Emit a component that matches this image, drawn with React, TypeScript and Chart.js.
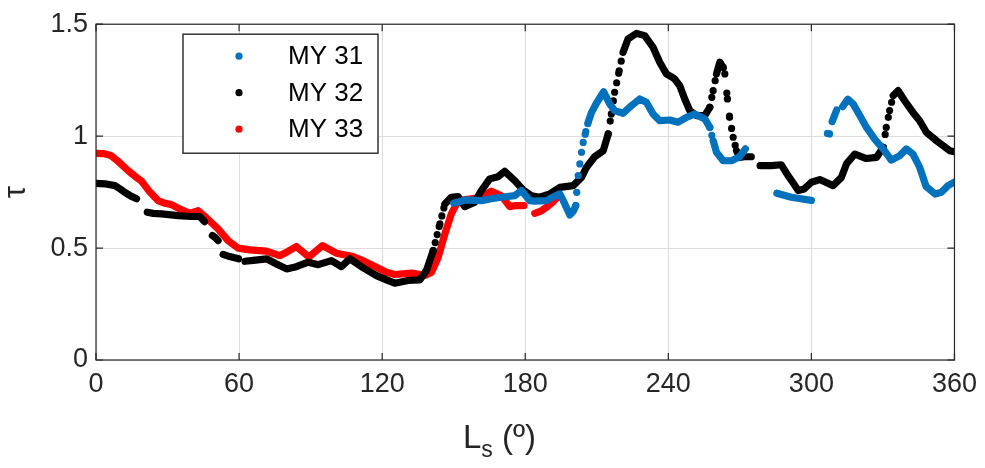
import React, { useEffect, useRef } from 'react';
import { Chart, registerables } from 'chart.js';

Chart.register(...registerables);

// ---- axis ticks ----
const xTicks = [0, 60, 120, 180, 240, 300, 360];
const yTicks = [0, 0.5, 1, 1.5];

// ---- series meta ----
const seriesLabels = ['MY 31', 'MY 32', 'MY 33'];
const seriesColors = ['#0072BD', '#000000', '#FF0000'];

// ---- MY 31 (null tau = gap) ----
const my31Ls = [150, 155, 161.6, 165.8, 170, 175.6, 178.4, 181.9, 184, 188.9, 192, 194.5, 196.6, 198.7, 200.2, 201.2, 201.6, 202.2, 202.9, 203.6, 204.3, 205.4, 206.4, 207.8, 209.9, 212.9, 215.4, 217.5, 221, 224.5, 228, 230.8, 233.6, 236.4, 240.6, 244.1, 247.6, 251.1, 255.3, 257.4, 258.8, 260.2, 263, 266.5, 269.9, 272.3,
  279,
  285.5, 291.6, 300,
  303,
  306.7, 307.6,
  308.2,
  308.7, 310.6,
  311.8,
  313.1, 315.3, 317.5, 320.3, 323.1, 326.5, 330.1, 333.5, 337.1, 339.8, 342.6, 345.4, 348.1, 351.9, 354.5, 357.3, 360];
const my31Tau = [0.70, 0.715, 0.712, 0.72, 0.727, 0.734, 0.757, 0.712, 0.71, 0.712, 0.73, 0.742, 0.697, 0.648, 0.665, 0.69, 0.749, 0.824, 0.876, 0.928, 0.972, 1.02, 1.062, 1.106, 1.148, 1.198, 1.144, 1.114, 1.102, 1.136, 1.166, 1.151, 1.099, 1.069, 1.072, 1.062, 1.084, 1.099, 1.077, 1.039, 0.98, 0.928, 0.89, 0.89, 0.908, 0.943,
  null,
  0.745, 0.727, 0.713,
  null,
  1.012, 1.01,
  null,
  1.065, 1.117,
  null,
  1.132, 1.165, 1.144, 1.092, 1.039, 0.987, 0.943, 0.893, 0.913, 0.943, 0.92, 0.861, 0.775, 0.741, 0.749, 0.779, 0.795];

// ---- MY 32 ----
const my32Ls = [0, 3.7, 7.9, 10, 12.1, 15, 17,
  19,
  21.5, 24, 27.5, 34.5, 40, 43.5, 45.5,
  47,
  48.8, 50, 51.2,
  52.3,
  53.3, 56, 59.8,
  61.3,
  62.5, 66, 71.5, 75.7, 79.9, 84, 89, 93.2, 98.7, 102.9, 106.4, 112, 117.6, 121.8, 125.3, 130.9, 135.8, 138.6, 141.4, 144.2, 146.3, 149, 151.9, 154.6, 158.8, 161.6, 165.1, 168.6, 171.4, 175.6, 179.1, 182.6, 186.1, 190.3, 194.5, 200.1, 203.6, 205.7, 209.1, 212.7, 214.8, 216.1, 217.5, 219.4, 221, 223.1, 226.6, 230.1, 233.6, 236.4, 239.2, 241.3, 242.7, 244.8, 246.9, 249, 251.8, 255.3, 257.4, 258.8, 260.2, 261.6, 263, 263.7, 264.8, 265.7, 267.2, 268.6, 269.9, 272, 274.8,
  276.5,
  278.5, 283.2, 287.4, 290.2, 294.5, 297, 300, 303.5, 309.1, 312.6, 314.7, 318.2, 323.1, 327.3, 330.1, 331.4, 332.8, 334.3, 336.4, 339.1, 342.6, 345.4, 348.2, 352.4, 355.2, 358, 360];
const my32Tau = [0.789, 0.787, 0.779, 0.765, 0.749, 0.73, 0.72,
  null,
  0.66, 0.655, 0.653, 0.645, 0.641, 0.641, 0.618,
  null,
  0.556, 0.547, 0.533,
  null,
  0.472, 0.462, 0.452,
  null,
  0.441, 0.445, 0.452, 0.429, 0.407, 0.417, 0.437, 0.426, 0.444, 0.417, 0.452, 0.412, 0.377, 0.358, 0.343, 0.355, 0.358, 0.40, 0.489, 0.608, 0.697, 0.727, 0.73, 0.685, 0.705, 0.757, 0.809, 0.819, 0.843, 0.801, 0.76, 0.734, 0.727, 0.742, 0.771, 0.779, 0.816, 0.861, 0.908, 0.935, 1.01, 1.099, 1.196, 1.292, 1.374, 1.434, 1.459, 1.449, 1.397, 1.33, 1.278, 1.265, 1.255, 1.225, 1.166, 1.114, 1.092, 1.092, 1.129, 1.203, 1.278, 1.33, 1.307, 1.278, 1.166, 1.084, 0.995, 0.935, 0.905, 0.908, 0.908,
  null,
  0.868, 0.868, 0.872, 0.824, 0.757, 0.764, 0.794, 0.806, 0.779, 0.816, 0.876, 0.92, 0.9, 0.905, 0.95, 1.039, 1.114, 1.181, 1.203, 1.158, 1.106, 1.069, 1.017, 0.98, 0.958, 0.935, 0.93];

// ---- MY 33 ----
const my33Ls = [0, 3, 6, 9, 13.5, 17, 19, 22.6, 26, 29, 31.7, 35, 39.3, 42.8, 46.3, 51.2, 55.4, 59.6, 64.5, 71.5, 77, 80.5, 84, 89.3, 95, 100.8, 107.8, 112, 117.6, 121.8, 125.3, 132.3, 137.9, 140.7, 143.5, 146.3, 149, 151.9, 157.4, 161.6, 165.8, 170, 173.5, 176, 179.5,
  182,
  184, 186.5, 188.9, 191.5, 193.8];
const my33Tau = [0.923, 0.922, 0.915, 0.89, 0.846, 0.815, 0.80, 0.75, 0.712, 0.70, 0.694, 0.675, 0.655, 0.667, 0.635, 0.586, 0.533, 0.50, 0.492, 0.486, 0.466, 0.485, 0.507, 0.46, 0.511, 0.477, 0.462, 0.444, 0.414, 0.392, 0.382, 0.388, 0.378, 0.392, 0.459, 0.563, 0.653, 0.712, 0.72, 0.727, 0.754, 0.734, 0.685, 0.69, 0.69,
  null,
  0.655, 0.665, 0.682, 0.705, 0.73];

const FONT = "'Liberation Sans', Arial, Helvetica, sans-serif";
const AXIS_COLOR = '#262626';

function toPoints(ls: number[], tau: (number | null)[]) {
  return ls.map((x, i) => ({ x, y: tau[i] }));
}

const framePlugin = {
  id: 'matlabFrame',
  afterDraw(chart: any) {
    const { ctx, chartArea: a, scales } = chart;
    const xs = scales.x;
    const ys = scales.y;
    ctx.save();
    ctx.strokeStyle = AXIS_COLOR;
    ctx.lineWidth = 1.2;
    ctx.strokeRect(a.left, a.top, a.right - a.left, a.bottom - a.top);
    const tl = 7;
    ctx.beginPath();
    xTicks.forEach((v) => {
      const px = xs.getPixelForValue(v);
      ctx.moveTo(px, a.bottom);
      ctx.lineTo(px, a.bottom - tl);
      ctx.moveTo(px, a.top);
      ctx.lineTo(px, a.top + tl);
    });
    yTicks.forEach((v) => {
      const py = ys.getPixelForValue(v);
      ctx.moveTo(a.left, py);
      ctx.lineTo(a.left + tl, py);
      ctx.moveTo(a.right, py);
      ctx.lineTo(a.right - tl, py);
    });
    ctx.stroke();

    // x title: L_s (º)
    ctx.fillStyle = AXIS_COLOR;
    ctx.textBaseline = 'alphabetic';
    ctx.textAlign = 'left';
    const big = `33px ${FONT}`;
    const small = `23px ${FONT}`;
    ctx.font = big;
    const wL = ctx.measureText('L').width;
    ctx.font = small;
    const wS = ctx.measureText('s').width;
    let x0 = 463;
    const base = 448;
    ctx.font = big;
    ctx.fillText('L', x0, base);
    x0 += wL;
    ctx.font = small;
    ctx.fillText('s', x0, base + 9);
    x0 += wS;
    ctx.font = big;
    ctx.fillText(' (º)', x0, base);

    // y title: tau
    ctx.save();
    ctx.translate(16, (a.top + a.bottom) / 2);
    ctx.rotate(-Math.PI / 2);
    ctx.textAlign = 'center';
    ctx.textBaseline = 'middle';
    ctx.font = `31px ${FONT}`;
    ctx.fillText('τ', 0, 0);
    ctx.restore();

    // legend
    const lx = a.left + 87;
    const ly = a.top + 10;
    const lw = 195;
    const lh = 119;
    ctx.fillStyle = '#ffffff';
    ctx.fillRect(lx, ly, lw, lh);
    ctx.strokeStyle = AXIS_COLOR;
    ctx.lineWidth = 1.4;
    ctx.strokeRect(lx, ly, lw, lh);
    ctx.font = `26px ${FONT}`;
    ctx.textAlign = 'left';
    ctx.textBaseline = 'middle';
    chart.data.datasets.forEach((ds: any, i: number) => {
      const yy = ly + 22 + i * 36.5;
      ctx.fillStyle = ds.borderColor;
      ctx.beginPath();
      ctx.arc(lx + 56, yy, 3.6, 0, Math.PI * 2);
      ctx.fill();
      ctx.fillStyle = '#000000';
      ctx.fillText(ds.label, lx + 105, yy + 1);
    });
    ctx.restore();
  },
};

export default function App() {
  const ref = useRef<HTMLCanvasElement | null>(null);
  useEffect(() => {
    const canvas = ref.current;
    if (!canvas) return;
    const lsArr = [my31Ls, my32Ls, my33Ls];
    const tauArr = [my31Tau, my32Tau, my33Tau];
    const dotStep = 2.0;
    const chart = new Chart(canvas, {
      type: 'line',
      data: {
        datasets: seriesLabels.map((label, i) => ({
          label,
          data: toPoints(lsArr[i], tauArr[i]),
          borderColor: seriesColors[i],
          backgroundColor: seriesColors[i],
          borderWidth: 7.2,
          borderCapStyle: 'round',
          borderJoinStyle: 'round',
          pointRadius: 0,
          pointHoverRadius: 0,
          tension: 0,
          spanGaps: false,
          fill: false,
          segment: {
            borderDash: (ctx: any) => {
              const dx = Math.abs(ctx.p1.x - ctx.p0.x);
              const dy = Math.abs(ctx.p1.y - ctx.p0.y);
              const len = Math.hypot(dx, dy);
              const step = (dotStep * len) / Math.max(dx, 0.01);
              return step > 7.5 ? [0, step] : undefined;
            },
          },
        })) as any,
      },
      options: {
        responsive: false,
        animation: false,
        devicePixelRatio: 1,
        layout: { padding: { left: 0, top: 23, right: 30, bottom: 0 } },
        plugins: {
          legend: { display: false },
          tooltip: { enabled: false },
        },
        events: [],
        scales: {
          x: {
            type: 'linear',
            min: 0,
            max: 360,
            afterBuildTicks: (s: any) => {
              s.ticks = xTicks.map((v) => ({ value: v }));
            },
            afterFit: (s: any) => {
              s.height = 108;
            },
            grid: { color: '#dedede', lineWidth: 1, drawTicks: false },
            border: { display: false },
            ticks: {
              autoSkip: false,
              maxRotation: 0,
              padding: 8,
              color: AXIS_COLOR,
              font: { family: FONT, size: 27 },
              callback: (v: any) => String(v),
            },
          },
          y: {
            type: 'linear',
            min: 0,
            max: 1.5,
            afterBuildTicks: (s: any) => {
              s.ticks = yTicks.map((v) => ({ value: v }));
            },
            afterFit: (s: any) => {
              s.width = 96;
            },
            grid: { color: '#dedede', lineWidth: 1, drawTicks: false },
            border: { display: false },
            ticks: {
              autoSkip: false,
              padding: 8,
              color: AXIS_COLOR,
              font: { family: FONT, size: 27 },
              callback: (v: any) => String(v),
            },
          },
        },
      },
      plugins: [framePlugin],
    });
    return () => chart.destroy();
  }, []);
  return (
    <div style={{ position: 'fixed', left: 0, top: 0, width: 985, height: 468, background: '#fff' }}>
      <canvas ref={ref} width={985} height={468} style={{ display: 'block' }} />
    </div>
  );
}
